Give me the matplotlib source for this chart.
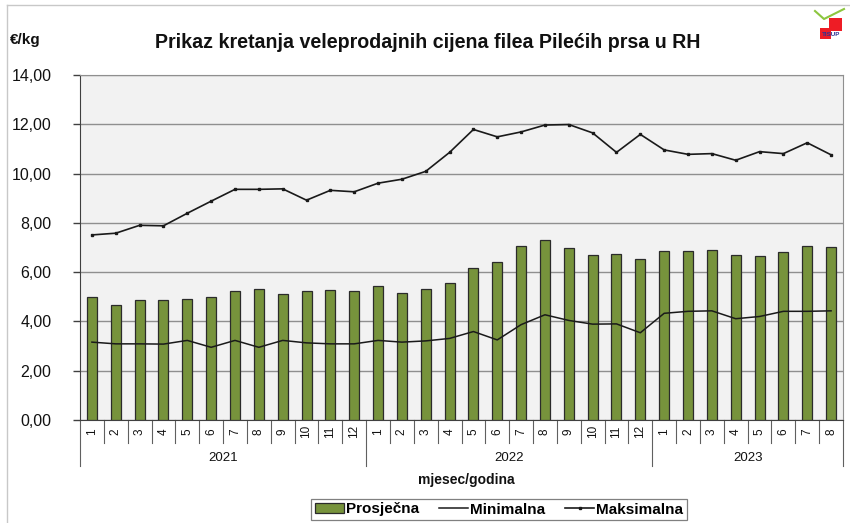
import matplotlib
matplotlib.use('Agg')
import matplotlib.pyplot as plt
from matplotlib import font_manager
from matplotlib.patches import Rectangle, Patch
from matplotlib.lines import Line2D
import numpy as np

# ---------------- data ----------------
years = ['2021', '2022', '2023']
months_per_year = [12, 12, 8]
month_labels = ([str(m) for m in range(1, 13)] + [str(m) for m in range(1, 13)]
                + [str(m) for m in range(1, 9)])

prosjecna = [4.98, 4.67, 4.88, 4.85, 4.90, 4.98, 5.23, 5.33, 5.13, 5.23, 5.27, 5.23,
             5.43, 5.17, 5.33, 5.57, 6.16, 6.43, 7.05, 7.29, 6.97, 6.71, 6.75, 6.55,
             6.86, 6.84, 6.89, 6.69, 6.66, 6.82, 7.07, 7.01]
minimalna = [3.16, 3.09, 3.09, 3.08, 3.23, 2.95, 3.23, 2.95, 3.23, 3.13, 3.09, 3.09,
             3.23, 3.16, 3.21, 3.31, 3.59, 3.25, 3.87, 4.27, 4.04, 3.89, 3.90, 3.54,
             4.33, 4.41, 4.43, 4.11, 4.20, 4.41, 4.41, 4.43]
maksimalna = [7.51, 7.58, 7.90, 7.88, 8.39, 8.88, 9.36, 9.36, 9.38, 8.92, 9.32, 9.26,
              9.61, 9.77, 10.09, 10.86, 11.79, 11.49, 11.69, 11.97, 11.99, 11.65, 10.86, 11.59,
              10.96, 10.78, 10.81, 10.54, 10.89, 10.81, 11.25, 10.76]
y_ticks = [0, 2, 4, 6, 8, 10, 12, 14]

title = 'Prikaz kretanja veleprodajnih cijena filea Pilećih prsa u RH'
series_names = ['Prosječna', 'Minimalna', 'Maksimalna']

# ---------------- fonts ----------------
available = {f.name for f in font_manager.fontManager.ttflist}
main_font = 'Liberation Sans' if 'Liberation Sans' in available else 'DejaVu Sans'
narrow_font = 'Liberation Sans Narrow' if 'Liberation Sans Narrow' in available else main_font
plt.rcParams['font.family'] = [main_font, 'DejaVu Sans']

W, H = 850, 523
fig = plt.figure(figsize=(W / 100, H / 100), dpi=100)
fig.patch.set_facecolor('white')

left, right, top, bottom = 80, 843, 75, 420
ax = fig.add_axes([left / W, 1 - bottom / H, (right - left) / W, (bottom - top) / H])
ax_h = bottom - top

x = np.arange(len(prosjecna))
ax.bar(x, prosjecna, width=0.42, color='#77933C', edgecolor='#2b2b2b', linewidth=0.9, zorder=3)
ax.plot(x, minimalna, color='#1a1a1a', lw=1.1, zorder=4)
ax.plot(x, maksimalna, color='#1a1a1a', lw=1.2, marker='s', ms=2.0, zorder=4)

ax.set_xlim(-0.5, len(x) - 0.5)
ax.set_ylim(0, 14)
ax.set_facecolor('#F2F2F2')
ax.set_yticks(y_ticks)
ax.set_yticklabels([f'{v:.2f}'.replace('.', ',') for v in y_ticks])
ax.grid(axis='y', color='#8f8f8f', lw=1.0, zorder=0)
ax.tick_params(axis='y', direction='out', length=5, width=1, color='#404040',
               labelsize=11.5, pad=15.5, labelcolor='#111111')
ax.set_xticks([])
for s in ['left', 'bottom']:
    ax.spines[s].set_color('#404040')
for s in ['top', 'right']:
    ax.spines[s].set_color('#8f8f8f')

# category axis (months + years)
tr = ax.get_xaxis_transform()
for i, lab in enumerate(month_labels):
    ax.text(i, -11.5 / ax_h, lab, transform=tr, rotation=90, ha='center', va='center',
            fontsize=8.5, color='#111111', clip_on=False)
boundaries = np.cumsum([0] + months_per_year) - 0.5
for i in range(1, len(x)):
    xb = i - 0.5
    if xb in boundaries:
        continue
    ax.plot([xb, xb], [0, -23 / ax_h], transform=tr, color='#606060', lw=0.8, clip_on=False)
for xb in boundaries:
    ax.plot([xb, xb], [0, -46 / ax_h], transform=tr, color='#606060', lw=0.8, clip_on=False)
for k, yr in enumerate(years):
    xc = (boundaries[k] + boundaries[k + 1]) / 2
    ax.text(xc, -38 / ax_h, yr, transform=tr, ha='center', va='center', fontsize=9.5,
            color='#111111', clip_on=False)

# texts
fig.text(428 / W, 1 - 42 / H, title, ha='center', va='center', fontsize=14.1,
         fontweight='bold', color='#111111')
fig.text(10 / W, 1 - 40 / H, '€/kg', ha='left', va='center', fontsize=11,
         fontweight='bold', color='#111111')
fig.text(466 / W, 1 - 480 / H, 'mjesec/godina', ha='center', va='center', fontsize=10,
         fontweight='bold', color='#111111')

# legend
handles = [Patch(facecolor='#77933C', edgecolor='#2b2b2b', linewidth=0.9),
           Line2D([], [], color='#1a1a1a', lw=1.1),
           Line2D([], [], color='#1a1a1a', lw=1.2, marker='s', ms=2.0)]
leg = fig.legend(handles, series_names, loc='center', ncol=3,
                 bbox_to_anchor=((311 + 687) / 2 / W, 1 - 509.5 / H),
                 frameon=True, fancybox=False, edgecolor='#808080', framealpha=1,
                 prop={'family': narrow_font, 'weight': 'bold', 'size': 11},
                 handlelength=1.9, handletextpad=0.15, columnspacing=1.3,
                 borderpad=0.25, handleheight=0.6)
leg.get_frame().set_linewidth(0.9)

# figure border (top and left)
fig.add_artist(Line2D([6.5 / W, 6.5 / W], [0, 1 - 5 / H], transform=fig.transFigure,
                      color='#c8c8c8', lw=1))
fig.add_artist(Line2D([6.5 / W, 1], [1 - 5 / H, 1 - 5 / H], transform=fig.transFigure,
                      color='#c8c8c8', lw=1))

# small logo approximation
def fx(px):
    return px / W

def fy(py):
    return 1 - py / H

fig.add_artist(Line2D([fx(815), fx(824), fx(844)], [fy(11), fy(19), fy(9)],
                      transform=fig.transFigure, color='#8cc63f', lw=1.5))
fig.add_artist(Rectangle((fx(829), fy(31)), 13 / W, 13 / H, transform=fig.transFigure,
                         facecolor='#ee1c25', edgecolor='none'))
fig.add_artist(Rectangle((fx(820), fy(39)), 11 / W, 11 / H, transform=fig.transFigure,
                         facecolor='#ee1c25', edgecolor='none'))
fig.text(fx(831), fy(34), 'TISUP', ha='center', va='center', fontsize=4.5,
         color='#2e3192', fontweight='bold')

fig.savefig('out.png', dpi=100, facecolor='white')
